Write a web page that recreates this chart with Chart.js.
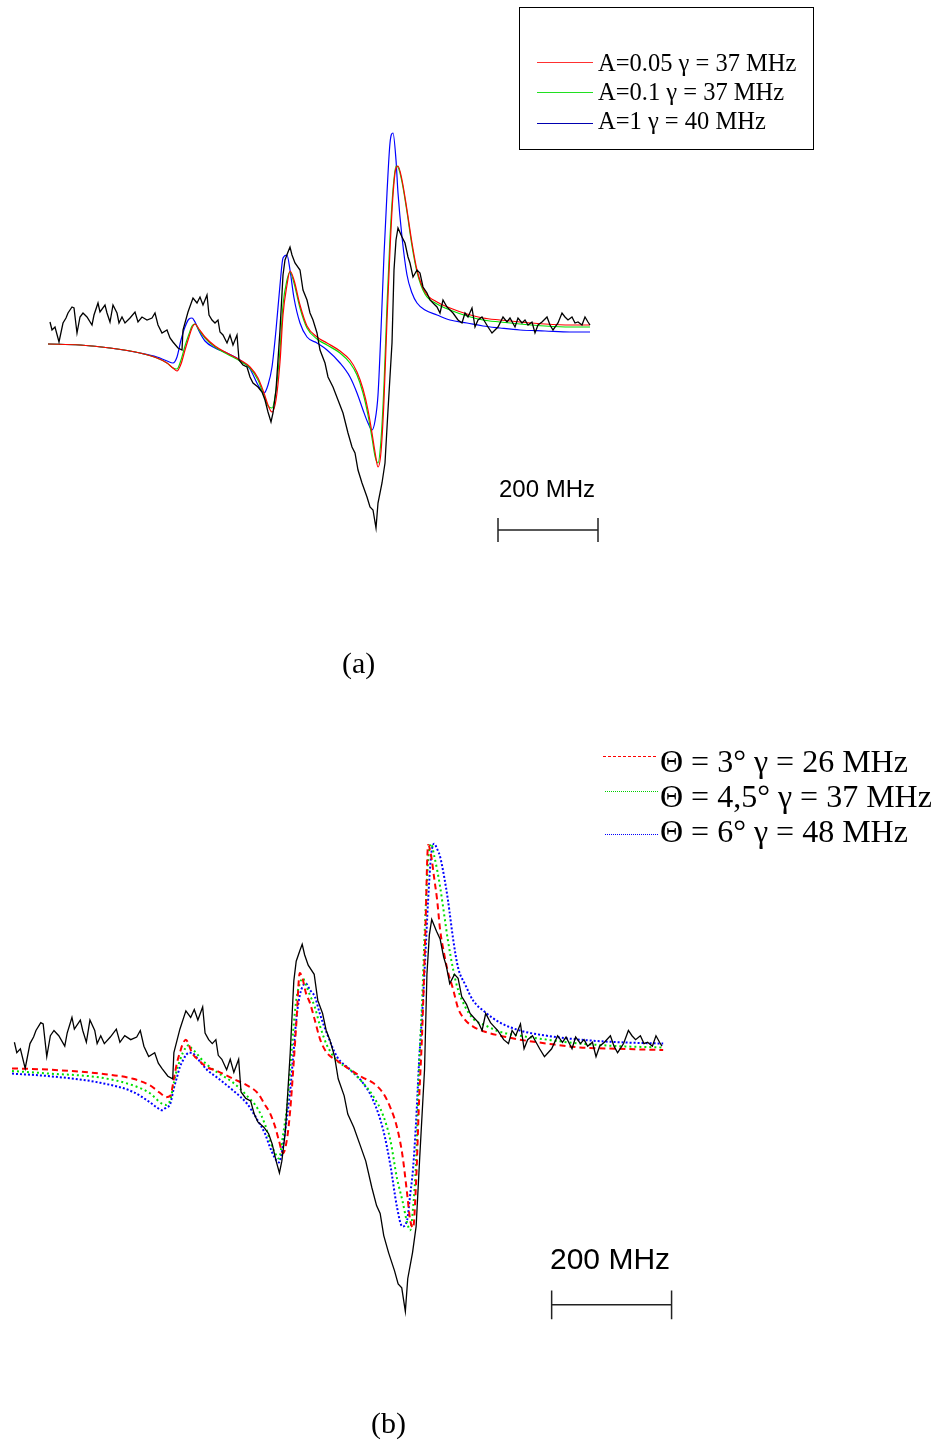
<!DOCTYPE html>
<html>
<head>
<meta charset="utf-8">
<script src="https://cdn.jsdelivr.net/npm/chart.js@4.4.1/dist/chart.umd.min.js"></script>
<style>
  body { margin: 0; background: #fff; }
  #pagina { position: relative; width: 939px; height: 1442px; overflow: hidden; background: #fff; }
  canvas { position: absolute; left: 0; }
  .txt { position: absolute; white-space: nowrap; line-height: 1; color: #000; }
  .serif { font-family: "Liberation Serif", "Times New Roman", serif; }
  .sans { font-family: "Liberation Sans", Arial, sans-serif; }
  .caja { position: absolute; box-sizing: border-box; border: 1px solid #000; }
  .muestra { position: absolute; height: 1px; }
</style>
</head>
<body>
<div id="pagina">
  <canvas id="grafico-a" width="939" height="700" style="top:0"></canvas>
  <canvas id="grafico-b" width="939" height="742" style="top:700px"></canvas>

  <!-- Leyenda (a) -->
  <div class="caja" style="left:519px; top:7px; width:295px; height:143px;"></div>
  <div class="muestra" style="left:537px; top:62px; width:56px; background:#ff3030;"></div>
  <div class="muestra" style="left:537px; top:92px; width:56px; background:#20e020;"></div>
  <div class="muestra" style="left:537px; top:123px; width:56px; background:#0000b0;"></div>
  <div class="txt serif" style="left:598px; top:51px; font-size:24.5px;">A=0.05 γ = 37 MHz</div>
  <div class="txt serif" style="left:598px; top:80px; font-size:24.5px;">A=0.1 γ = 37 MHz</div>
  <div class="txt serif" style="left:598px; top:109px; font-size:24.5px;">A=1 γ = 40 MHz</div>

  <div class="txt sans" style="left:499px; top:477px; font-size:24px;">200 MHz</div>
  <div class="txt serif" style="left:342px; top:648px; font-size:30px;">(a)</div>

  <!-- Leyenda (b) -->
  <div class="muestra" style="left:603px; top:756px; width:55px; background:repeating-linear-gradient(to right, #ff0000 0 3px, transparent 3px 5px);"></div>
  <div class="muestra" style="left:605px; top:791px; width:53px; background:repeating-linear-gradient(to right, #00d000 0 1px, transparent 1px 2px);"></div>
  <div class="muestra" style="left:605px; top:834px; width:53px; background:repeating-linear-gradient(to right, #0000ff 0 1px, transparent 1px 2px);"></div>
  <div class="txt serif" style="left:660px; top:745px; font-size:32px;">Θ = 3° γ = 26 MHz</div>
  <div class="txt serif" style="left:660px; top:780px; font-size:32px;">Θ = 4,5° γ = 37 MHz</div>
  <div class="txt serif" style="left:660px; top:815px; font-size:32px;">Θ = 6° γ = 48 MHz</div>

  <div class="txt sans" style="left:550px; top:1244px; font-size:30px;">200 MHz</div>
  <div class="txt serif" style="left:371px; top:1408px; font-size:30px;">(b)</div>
</div>

<script>
// Espectro experimental (frecuencia en MHz, señal en unidades arbitrarias)
var expX = [4,8,14,22,30,36,40,48,52,58,64,70,78,88,92,100,104,114,118,124,
  130,138,142,148,154,164,174,180,188,198,208,214,220,228,238,244,250,260,268,270,
  280,290,298,304,310,318,322,328,334,340,344,350,358,364,370,378,382,390,398,404,
  410,420,428,434,440,446,450,456,464,470,474,480,484,488,494,504,510,518,524,530,
  538,544,554,560,570,580,590,600,608,614,620,628,638,644,650,656,660,668,674,680,
  688,692,696,700,708,714,720,724,730,738,744,750,758,764,770,778,784,790,798,804,
  810,820,828,834,840,848,854,860,868,874,880,888,894,900,910,918,924,934,940,948,
  954,960,968,974,980,988,998,1004,1010,1020,1028,1034,1040,1048,1054,1060,1068,1074,1080,1084];
var expY = [3,-5,-2,-17,2,7,12,18,17,-8,8,12,8,0,10,22,13,20,12,3,
  20,12,2,8,2,7,13,3,8,5,7,12,0,-8,-5,-13,-17,-23,-25,-5,
  13,27,22,28,20,30,10,5,2,5,-7,-10,-18,-10,-20,-10,-35,-40,-42,-52,
  -58,-62,-67,-75,-87,-97,-88,-65,-5,50,65,73,78,70,62,55,35,25,12,5,
  -8,-25,-38,-52,-62,-75,-88,-108,-122,-128,-145,-158,-172,-182,-185,-203,-178,-158,-138,-85,
  -18,55,85,97,88,82,68,62,48,55,52,38,32,25,22,18,12,25,18,15,
  12,5,2,12,8,17,-2,5,8,3,-2,-8,-5,-2,8,3,7,-2,7,2,
  5,0,3,-8,0,3,8,0,-5,2,12,8,5,8,2,3,0,8,3,0];

// Ajustes del panel (a)
var fitAX = [0,64,124,184,218,238,250,258,266,274,282,288,294,302,314,334,358,384,404,420,
  432,440,448,456,464,470,478,484,492,504,518,538,558,584,604,618,630,640,648,654,
  660,666,672,678,684,690,696,700,708,718,728,738,754,778,804,838,870,904,944,994,1044,1084];
var ajusteA005 = [-19,-20,-23,-28,-33,-38,-43,-46,-39,-25,-12,-3,1,-4,-12,-21,-28,-35,-42,-53,
  -68,-80,-87,-75,-37,10,40,54,45,20,-1,-12,-18,-26,-35,-47,-64,-85,-108,-127,
  -142,-127,-75,5,75,130,157,159,145,115,82,55,33,23,17,11,7,5,3,1,0,0];
var ajusteA01 = [-19,-20,-23,-28,-33,-38,-43,-44,-35,-21,-9,-1,1,-5,-13,-22,-29,-36,-43,-55,
  -71,-81,-83,-65,-25,20,45,53,42,17,-3,-14,-20,-28,-38,-50,-68,-90,-113,-131,
  -138,-115,-60,20,87,135,159,158,143,113,79,53,31,21,15,9,5,3,1,-1,-2,-2];
var ajusteA1 = [-19,-20,-23,-28,-32,-36,-38,-32,-15,-2,6,7,3,-6,-16,-23,-28,-35,-44,-60,
  -68,-60,-42,-5,40,67,70,55,27,2,-12,-18,-25,-38,-52,-68,-85,-98,-105,-96,
  -70,-5,70,132,182,192,165,132,88,50,32,22,15,10,5,2,-1,-3,-5,-6,-7,-7];

// Ajustes del panel (b)
var fitBX = [0,63,147,202,230,242,250,257,264,270,275,280,285,290,295,300,307,314,325,342,
  369,392,410,422,430,439,445,452,459,464,469,474,480,485,490,497,505,514,525,542,
  564,585,602,619,631,642,651,659,664,669,674,679,684,689,694,699,704,709,714,721,
  727,736,744,756,769,789,814,847,892,947,1014,1086];
var ajusteT3 = [-17,-18,-21,-25,-30,-34,-37,-39,-38,-25,-13,-5,2,5,1,-5,-9,-12,-16,-19,
  -25,-30,-36,-45,-51,-62,-72,-82,-70,-49,-18,16,56,51,41,33,20,5,-5,-11,
  -18,-24,-28,-36,-47,-62,-83,-113,-133,-139,-103,-41,10,81,154,146,129,112,89,70,
  57,43,29,20,15,11,8,5,2,-1,-2,-3];
var ajusteT45 = [-19,-21,-24,-30,-36,-41,-44,-45,-41,-28,-18,-11,-5,-1,1,-2,-5,-9,-14,-20,
  -28,-38,-48,-60,-72,-82,-86,-68,-45,-18,12,35,48,52,47,39,30,15,1,-11,
  -18,-28,-38,-53,-72,-101,-118,-135,-141,-123,-87,-16,35,96,142,155,146,135,122,100,
  81,58,43,30,21,16,11,8,5,2,0,-1];
var ajusteT6 = [-21,-23,-28,-35,-43,-47,-49,-47,-44,-32,-24,-16,-11,-7,-5,-5,-8,-12,-18,-24,
  -34,-44,-57,-67,-77,-86,-89,-76,-53,-34,-7,20,39,46,48,43,38,24,10,-8,
  -18,-28,-41,-64,-91,-123,-138,-133,-114,-93,-57,-11,24,66,112,146,155,151,145,129,
  112,81,60,47,35,26,18,12,8,5,3,2];

// Barras de escala de 200 MHz
var barraA = { inicio: 900, largo: 200, y: -205, alto: 12 };
var barraB = { inicio: 900, largo: 200, y: -198, alto: 11 };

function puntos(xs, ys) {
  return xs.map(function (x, i) { return { x: x, y: ys[i] }; });
}

function puntosBarra(b) {
  var fin = b.inicio + b.largo;
  return [
    { x: b.inicio, y: b.y + b.alto }, { x: b.inicio, y: b.y - b.alto }, { x: b.inicio, y: null },
    { x: b.inicio, y: b.y }, { x: fin, y: b.y }, { x: fin, y: null },
    { x: fin, y: b.y + b.alto }, { x: fin, y: b.y - b.alto }
  ];
}

function opciones(xmin, xmax, ymin, ymax) {
  return {
    responsive: false,
    animation: false,
    events: [],
    layout: { padding: 0 },
    plugins: { legend: { display: false }, tooltip: { enabled: false }, title: { display: false } },
    elements: { point: { radius: 0 }, line: { tension: 0 } },
    scales: {
      x: { type: 'linear', display: false, min: xmin, max: xmax },
      y: { type: 'linear', display: false, min: ymin, max: ymax }
    }
  };
}

var experimental = {
  label: 'Experimental', borderColor: '#000', borderWidth: 1.3, fill: false
};

// Panel (a)
var configA = {
  type: 'line',
  data: {
    datasets: [
      Object.assign({}, experimental, { data: puntos(expX, expY) }),
      { label: 'A=0.05 γ = 37 MHz', data: puntos(fitAX, ajusteA005), borderColor: '#ff0000', borderWidth: 1.2, cubicInterpolationMode: 'monotone' },
      { label: 'A=0.1 γ = 37 MHz', data: puntos(fitAX, ajusteA01), borderColor: '#00e000', borderWidth: 1.2, cubicInterpolationMode: 'monotone' },
      { label: 'A=1 γ = 40 MHz', data: puntos(fitAX, ajusteA1), borderColor: '#0000ff', borderWidth: 1.2, cubicInterpolationMode: 'monotone' },
      { label: 'escala', data: puntosBarra(barraA), borderColor: '#222', borderWidth: 1.5, spanGaps: false }
    ]
  },
  options: opciones(-96, 1782, -375, 325)
};

// Panel (b)
var configB = {
  type: 'line',
  data: {
    datasets: [
      Object.assign({}, experimental, { data: puntos(expX, expY) }),
      { label: 'Θ = 3° γ = 26 MHz', data: puntos(fitBX, ajusteT3), borderColor: '#ff0000', borderWidth: 2, borderDash: [6, 4], cubicInterpolationMode: 'monotone' },
      { label: 'Θ = 4,5° γ = 37 MHz', data: puntos(fitBX, ajusteT45), borderColor: '#00e000', borderWidth: 2, borderDash: [2, 3], cubicInterpolationMode: 'monotone' },
      { label: 'Θ = 6° γ = 48 MHz', data: puntos(fitBX, ajusteT6), borderColor: '#0000ff', borderWidth: 2, borderDash: [2, 2], cubicInterpolationMode: 'monotone' },
      { label: 'escala', data: puntosBarra(barraB), borderColor: '#222', borderWidth: 1.5, spanGaps: false }
    ]
  },
  options: opciones(-20, 1546, -303, 265)
};

var graficoA = new Chart(document.getElementById('grafico-a').getContext('2d'), configA);
var graficoB = new Chart(document.getElementById('grafico-b').getContext('2d'), configB);
</script>
</body>
</html>
